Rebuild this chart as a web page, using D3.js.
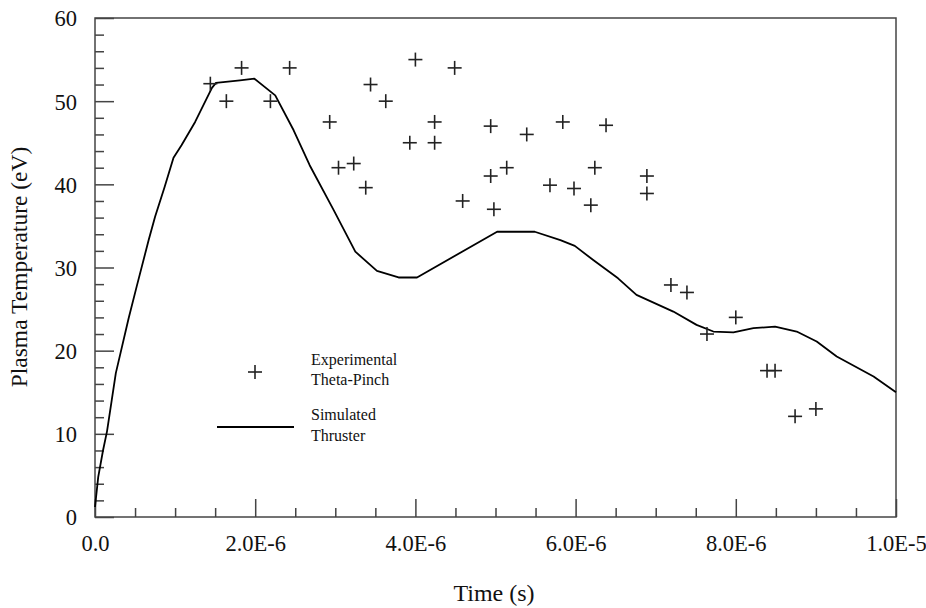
<!DOCTYPE html>
<html>
<head>
<meta charset="utf-8">
<script src="https://cdn.jsdelivr.net/npm/d3@7"></script>
<style>
  html, body { margin: 0; padding: 0; background: #fff; }
  svg { display: block; }
  text { font-family: "Liberation Serif", "DejaVu Serif", serif; fill: #111; }
</style>
</head>
<body>
<svg id="chart" width="926" height="608"></svg>
<script>
// ---- Data ----
// Experimental theta-pinch measurements (time in microseconds, temperature in eV)
const expTime = [1.44, 1.64, 1.83, 2.19, 2.43, 2.93, 3.04, 3.23, 3.38, 3.44, 3.63, 3.93, 4.0, 4.24, 4.24, 4.49, 4.59, 4.94, 4.94, 4.98, 5.14, 5.39, 5.68, 5.84, 5.98, 6.19, 6.24, 6.38, 6.89, 6.89, 7.19, 7.39, 7.64, 8.0, 8.39, 8.49, 8.74, 9.0];
const expTemp = [52.1, 50.0, 54.0, 50.0, 54.0, 47.5, 42.0, 42.5, 39.6, 52.0, 50.0, 45.0, 55.0, 47.5, 45.0, 54.0, 38.0, 47.0, 41.0, 37.0, 42.0, 46.0, 39.9, 47.5, 39.5, 37.5, 42.0, 47.1, 41.0, 38.9, 27.9, 27.0, 22.0, 24.0, 17.6, 17.6, 12.1, 13.0];
// Simulated thruster curve
const simTime = [0, 0.04, 0.10, 0.15, 0.21, 0.26, 0.42, 0.52, 0.67, 0.75, 0.87, 0.98, 1.08, 1.25, 1.46, 1.51, 1.81, 1.99, 2.25, 2.48, 2.68, 2.98, 3.25, 3.52, 3.79, 4.02, 5.02, 5.49, 5.81, 5.99, 6.22, 6.53, 6.76, 7.22, 7.51, 7.72, 7.97, 8.22, 8.49, 8.76, 9.01, 9.26, 9.72, 10.0];
const simTemp = [1.2, 4.8, 8.0, 10.3, 14.1, 17.3, 23.9, 27.7, 33.3, 36.1, 39.7, 43.2, 44.7, 47.5, 51.6, 52.2, 52.5, 52.7, 50.7, 46.5, 42.3, 36.9, 31.9, 29.6, 28.8, 28.8, 34.3, 34.3, 33.3, 32.6, 30.9, 28.7, 26.7, 24.7, 23.1, 22.3, 22.2, 22.7, 22.9, 22.3, 21.1, 19.3, 16.9, 15.0];
// Axis ticks
const xTickValues = [0, 2e-6, 4e-6, 6e-6, 8e-6, 1e-5];
const xTickLabels = ["0.0", "2.0E-6", "4.0E-6", "6.0E-6", "8.0E-6", "1.0E-5"];
const yTickValues = [0, 10, 20, 30, 40, 50, 60];
const yTickLabels = ["0", "10", "20", "30", "40", "50", "60"];
const legendLabels = [["Experimental", "Theta-Pinch"], ["Simulated", "Thruster"]];

// ---- Layout ----
const svg = d3.select("#chart");
const plot = { left: 95, top: 18, right: 896, bottom: 517 };
const x = d3.scaleLinear().domain([0, 1e-5]).range([plot.left, plot.right]);
const y = d3.scaleLinear().domain([0, 60]).range([plot.bottom, plot.top]);
const frameColor = "#444";
const tickFont = 22.5;

// Frame
svg.append("rect")
  .attr("x", plot.left).attr("y", plot.top)
  .attr("width", plot.right - plot.left).attr("height", plot.bottom - plot.top)
  .attr("fill", "none").attr("stroke", frameColor).attr("stroke-width", 1.5);

// X axis (ticks inward)
const xMinor = d3.range(0, 1e-5 + 1e-12, 5e-7).filter(v => !xTickValues.some(m => Math.abs(m - v) < 1e-12));
const xAxisMajor = d3.axisBottom(x).tickValues(xTickValues).tickSizeInner(-18).tickSizeOuter(0)
  .tickFormat((d, i) => xTickLabels[i]).tickPadding(0);
const xAxisMinor = d3.axisBottom(x).tickValues(xMinor).tickSizeInner(-9).tickSizeOuter(0).tickFormat("");
const gxMinor = svg.append("g").attr("transform", `translate(0,${plot.bottom})`).call(xAxisMinor);
const gx = svg.append("g").attr("transform", `translate(0,${plot.bottom})`).call(xAxisMajor);
[gx, gxMinor].forEach(g => {
  g.select(".domain").remove();
  g.selectAll("line").attr("stroke", frameColor).attr("stroke-width", 1.5);
});
gx.selectAll("text").attr("y", 34).attr("dy", 0).attr("font-size", tickFont)
  .style("font-family", "Liberation Serif").attr("fill", "#111");

// Y axis (ticks inward)
const yMinor = d3.range(0, 61, 2).filter(v => !yTickValues.includes(v));
const yAxisMajor = d3.axisLeft(y).tickValues(yTickValues).tickSizeInner(-19).tickSizeOuter(0)
  .tickFormat((d, i) => yTickLabels[i]);
const yAxisMinor = d3.axisLeft(y).tickValues(yMinor).tickSizeInner(-9).tickSizeOuter(0).tickFormat("");
const gyMinor = svg.append("g").attr("transform", `translate(${plot.left},0)`).call(yAxisMinor);
const gy = svg.append("g").attr("transform", `translate(${plot.left},0)`).call(yAxisMajor);
[gy, gyMinor].forEach(g => {
  g.select(".domain").remove();
  g.selectAll("line").attr("stroke", frameColor).attr("stroke-width", 1.5);
});
gy.selectAll("text").attr("x", -18).attr("dy", "0.35em").attr("font-size", tickFont)
  .style("font-family", "Liberation Serif").attr("fill", "#111");

// Simulated line
const line = d3.line().x((d, i) => x(simTime[i] * 1e-6)).y((d, i) => y(simTemp[i]));
svg.append("path").datum(simTime).attr("d", line)
  .attr("fill", "none").attr("stroke", "#000").attr("stroke-width", 1.8)
  .attr("stroke-linejoin", "round");

// Experimental plus markers
const pm = 7;
const pts = svg.append("g").selectAll("g").data(expTime).join("g")
  .attr("transform", (d, i) => `translate(${x(d * 1e-6)},${y(expTemp[i])})`);
pts.append("line").attr("x1", -pm).attr("x2", pm).attr("y1", 0).attr("y2", 0);
pts.append("line").attr("x1", 0).attr("x2", 0).attr("y1", -pm).attr("y2", pm);
pts.selectAll("line").attr("stroke", "#222").attr("stroke-width", 1.6);

// Legend
const lg = svg.append("g");
const lp = lg.append("g").attr("transform", "translate(255,372)");
lp.append("line").attr("x1", -pm).attr("x2", pm).attr("stroke", "#222").attr("stroke-width", 1.6);
lp.append("line").attr("y1", -pm).attr("y2", pm).attr("stroke", "#222").attr("stroke-width", 1.6);
lg.append("line").attr("x1", 217).attr("x2", 294).attr("y1", 427).attr("y2", 427)
  .attr("stroke", "#000").attr("stroke-width", 1.8);
const legendY = [[365, 385], [420, 441]];
legendLabels.forEach((pair, i) => {
  pair.forEach((t, j) => {
    lg.append("text").attr("x", 311).attr("y", legendY[i][j]).attr("font-size", 16).text(t);
  });
});

// Axis titles
svg.append("text").attr("x", 494).attr("y", 601).attr("text-anchor", "middle")
  .attr("font-size", 24).text("Time (s)");
svg.append("text").attr("transform", "translate(27,267) rotate(-90)").attr("text-anchor", "middle")
  .attr("font-size", 23.5).text("Plasma Temperature (eV)");
</script>
</body>
</html>
